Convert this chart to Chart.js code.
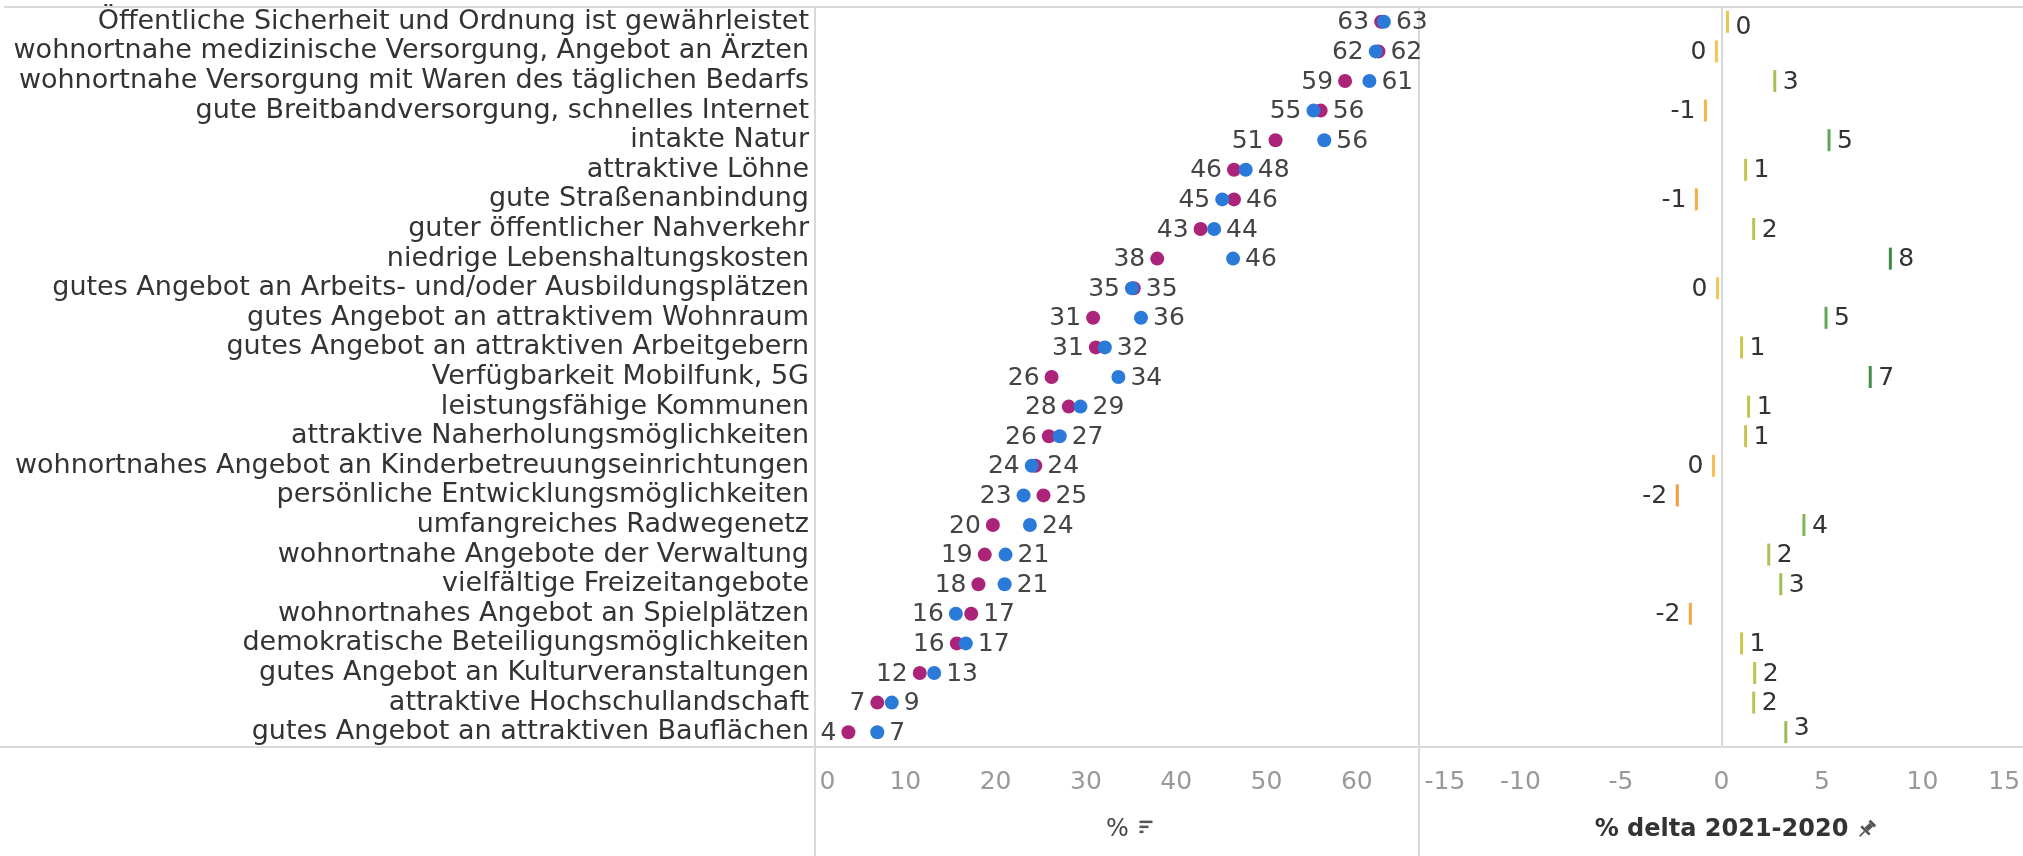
<!DOCTYPE html>
<html>
<head>
<meta charset="utf-8">
<script src="https://cdn.jsdelivr.net/npm/chart.js@4.4.0/dist/chart.umd.min.js"></script>
<style>
  html, body { margin: 0; padding: 0; background: #fff; overflow: hidden; }
  #wrap { position: relative; width: 2023px; height: 856px; }
  #leftChart { position: absolute; left: 0; top: 0; }
  #rightChart { position: absolute; left: 1380px; top: 0; }
</style>
</head>
<body>
<div id="wrap">
  <canvas id="leftChart" width="1480" height="856"></canvas>
  <canvas id="rightChart" width="643" height="856"></canvas>
</div>
<script>
const categories = [
    'Öffentliche Sicherheit und Ordnung ist gewährleistet',
    'wohnortnahe medizinische Versorgung, Angebot an Ärzten',
    'wohnortnahe Versorgung mit Waren des täglichen Bedarfs',
    'gute Breitbandversorgung, schnelles Internet',
    'intakte Natur',
    'attraktive Löhne',
    'gute Straßenanbindung',
    'guter öffentlicher Nahverkehr',
    'niedrige Lebenshaltungskosten',
    'gutes Angebot an Arbeits- und/oder Ausbildungsplätzen',
    'gutes Angebot an attraktivem Wohnraum',
    'gutes Angebot an attraktiven Arbeitgebern',
    'Verfügbarkeit Mobilfunk, 5G',
    'leistungsfähige Kommunen',
    'attraktive Naherholungsmöglichkeiten',
    'wohnortnahes Angebot an Kinderbetreuungseinrichtungen',
    'persönliche Entwicklungsmöglichkeiten',
    'umfangreiches Radwegenetz',
    'wohnortnahe Angebote der Verwaltung',
    'vielfältige Freizeitangebote',
    'wohnortnahes Angebot an Spielplätzen',
    'demokratische Beteiligungsmöglichkeiten',
    'gutes Angebot an Kulturveranstaltungen',
    'attraktive Hochschullandschaft',
    'gutes Angebot an attraktiven Bauflächen'
];

// % share, 2020 (magenta) and 2021 (blue)
const values2020 = [62.7, 62.4, 58.7, 56.0, 51.0, 46.4, 46.4, 42.7, 37.9, 35.3, 30.8, 31.1, 26.2,
    28.1, 25.9, 24.4, 25.3, 19.7, 18.8, 18.1, 17.3, 15.7, 11.6, 6.9, 3.7];
const values2021 = [63.0, 62.1, 61.4, 55.2, 56.4, 47.7, 45.1, 44.2, 46.3, 35.1, 36.1, 32.1, 33.6,
    29.4, 27.1, 24.0, 23.1, 23.8, 21.1, 21.0, 15.6, 16.7, 13.2, 8.5, 6.9];

// % delta 2021-2020
const delta = [0.3, -0.25, 2.65, -0.8, 5.35, 1.2, -1.25, 1.6, 8.4, -0.2, 5.2, 1.0, 7.4,
    1.35, 1.2, -0.4, -2.2, 4.1, 2.35, 2.95, -1.55, 1.0, 1.65, 1.6, 3.2];

const pctRange = [0, 67];
const deltaRange = [-15, 15];

const color2020 = '#ab2479';
const color2021 = '#2a7ad9';
const lineColor = '#d9d9d9';
const font = '"DejaVu Sans", sans-serif';

// diverging colour for the delta ticks
const deltaStops = [
    [-2.2, [242, 154, 60]], [-0.8, [246, 181, 72]], [-0.2, [248, 198, 84]], [0.3, [230, 198, 74]],
    [1, [200, 198, 79]], [2, [179, 195, 83]], [3, [159, 190, 88]], [4, [133, 181, 90]],
    [5.3, [94, 166, 87]], [8, [58, 138, 72]]
];
function deltaColor(v) {
    if (v <= deltaStops[0][0]) return 'rgb(' + deltaStops[0][1].join(',') + ')';
    for (let i = 1; i < deltaStops.length; i++) {
        const [v1, c1] = deltaStops[i];
        const [v0, c0] = deltaStops[i - 1];
        if (v <= v1) {
            const t = (v - v0) / (v1 - v0);
            return 'rgb(' + c0.map((c, k) => Math.round(c + (c1[k] - c) * t)).join(',') + ')';
        }
    }
    return 'rgb(' + deltaStops[deltaStops.length - 1][1].join(',') + ')';
}

const fmt = v => String(Math.round(v) === 0 ? 0 : Math.round(v));

// lines round the panels (drawn under the marks and labels)
const leftFrame = {
    id: 'leftFrame',
    beforeDatasetsDraw(chart) {
        const { ctx, chartArea: a, height } = chart;
        ctx.save();
        ctx.strokeStyle = lineColor;
        ctx.lineWidth = 2;
        ctx.beginPath();
        ctx.moveTo(4, a.top); ctx.lineTo(a.right, a.top);
        ctx.moveTo(0, a.bottom); ctx.lineTo(a.right, a.bottom);
        ctx.moveTo(a.left, a.top); ctx.lineTo(a.left, height);
        ctx.moveTo(a.right - 1, a.top); ctx.lineTo(a.right - 1, height);
        ctx.stroke();
        ctx.restore();
    }
};
const rightFrame = {
    id: 'rightFrame',
    beforeDatasetsDraw(chart) {
        const { ctx, chartArea: a, width } = chart;
        ctx.save();
        ctx.strokeStyle = lineColor;
        ctx.lineWidth = 2;
        ctx.beginPath();
        ctx.moveTo(a.left, a.top); ctx.lineTo(width, a.top);
        ctx.moveTo(a.left, a.bottom); ctx.lineTo(width, a.bottom);
        ctx.stroke();
        ctx.restore();
    }
};

// value labels left and right of the dot pair
const dotLabels = {
    id: 'dotLabels',
    afterDatasetsDraw(chart) {
        const ctx = chart.ctx;
        const blue = chart.getDatasetMeta(0).data;
        const mag = chart.getDatasetMeta(1).data;
        ctx.save();
        ctx.font = '25px ' + font;
        ctx.fillStyle = '#444';
        ctx.textBaseline = 'middle';
        categories.forEach((c, i) => {
            const magLow = values2020[i] <= values2021[i];
            const lo = magLow ? mag[i] : blue[i];
            const hi = magLow ? blue[i] : mag[i];
            const loV = magLow ? values2020[i] : values2021[i];
            const hiV = magLow ? values2021[i] : values2020[i];
            ctx.textAlign = 'right';
            ctx.fillText(fmt(loV), lo.x - 12, lo.y + 1);
            ctx.textAlign = 'left';
            ctx.fillText(fmt(hiV), hi.x + 12, hi.y + 1);
        });
        ctx.restore();
    }
};

const deltaLabels = {
    id: 'deltaLabels',
    afterDatasetsDraw(chart) {
        const { ctx, chartArea: a } = chart;
        const pts = chart.getDatasetMeta(0).data;
        ctx.save();
        ctx.font = '25px ' + font;
        ctx.fillStyle = '#333';
        ctx.textBaseline = 'middle';
        pts.forEach((p, i) => {
            // keep labels clear of the panel edges, as in the original
            const y = Math.min(Math.max(p.y + 1, a.top + 20), a.bottom - 19);
            if (delta[i] > 0) {
                ctx.textAlign = 'left';
                ctx.fillText(fmt(delta[i]), p.x + 8, y);
            } else {
                ctx.textAlign = 'right';
                ctx.fillText(fmt(delta[i]), p.x - 10, y);
            }
        });
        ctx.restore();
    }
};

// small icons after the axis titles
function titleY(chart, size, pad) {
    return chart.scales.x.bottom - size * 1.2 / 2 - pad;
}
const sortIcon = {
    id: 'sortIcon',
    afterDraw(chart) {
        const { ctx, chartArea: a } = chart;
        const cx = (a.left + a.right) / 2;
        const y = titleY(chart, 24, 12);
        ctx.save();
        ctx.fillStyle = '#555';
        ctx.fillRect(cx + 22, y - 9, 13, 2.5);
        ctx.fillRect(cx + 22, y - 4, 9, 2.5);
        ctx.fillRect(cx + 22, y + 1, 4, 2.5);
        ctx.restore();
    }
};
const pinIcon = {
    id: 'pinIcon',
    afterDraw(chart) {
        const { ctx, chartArea: a } = chart;
        ctx.save();
        ctx.font = 'bold 24px ' + font;
        const w = ctx.measureText('% delta 2021-2020').width;
        const x = (a.left + a.right) / 2 + w / 2 + 18;
        const y = titleY(chart, 24, 12);
        ctx.translate(x, y);
        ctx.rotate(Math.PI / 4);
        ctx.fillStyle = '#555';
        ctx.fillRect(-4, -10, 8, 3);
        ctx.fillRect(-2.5, -7, 5, 7);
        ctx.fillRect(-6, 0, 12, 2.5);
        ctx.fillRect(-0.8, 2.5, 1.6, 7);
        ctx.restore();
    }
};

new Chart(document.getElementById('leftChart'), {
    type: 'line',
    data: {
        labels: categories,
        datasets: [{
            label: '2021',
            data: values2021,
            showLine: false,
            pointRadius: 7,
            pointBorderWidth: 0,
            pointBackgroundColor: color2021,
            pointBorderColor: color2021
        }, {
            label: '2020',
            data: values2020,
            showLine: false,
            pointRadius: 7,
            pointBorderWidth: 0,
            pointBackgroundColor: color2020,
            pointBorderColor: color2020
        }]
    },
    options: {
        indexAxis: 'y',
        responsive: false,
        animation: false,
        events: [],
        layout: { autoPadding: false, padding: { top: 7, left: 0, right: 60, bottom: 0 } },
        plugins: {
            legend: { display: false },
            tooltip: { enabled: false }
        },
        scales: {
            y: {
                type: 'category',
                offset: true,
                grid: { display: false, drawTicks: false },
                border: { display: false },
                ticks: {
                    color: '#333',
                    font: { family: font, size: 27 },
                    padding: 6,
                    autoSkip: false
                },
                afterFit(s) { s.width = 815; s.paddingTop = 0; s.paddingBottom = 0; }
            },
            x: {
                type: 'linear',
                position: 'bottom',
                min: pctRange[0],
                max: pctRange[1],
                grid: { display: false, drawTicks: false },
                border: { display: false },
                ticks: {
                    stepSize: 10,
                    includeBounds: false,
                    color: '#999',
                    font: { family: font, size: 25 },
                    padding: 20,
                    maxRotation: 0,
                    autoSkip: false,
                    callback: v => v === 0 ? '\u2002\u20020' : v
                },
                title: {
                    display: true,
                    text: '%',
                    color: '#444',
                    font: { family: font, size: 24 },
                    padding: { top: 0, bottom: 12 }
                },
                afterFit(s) { s.height = 109; s.paddingLeft = 0; s.paddingRight = 0; }
            }
        }
    },
    plugins: [leftFrame, dotLabels, sortIcon]
});

new Chart(document.getElementById('rightChart'), {
    type: 'line',
    data: {
        labels: categories,
        datasets: [{
            label: '% delta 2021-2020',
            data: delta,
            showLine: false,
            pointStyle: 'line',
            pointRadius: 11,
            pointRotation: 90,
            pointBorderWidth: 3,
            pointBorderColor: c => deltaColor(c.raw),
            pointBackgroundColor: c => deltaColor(c.raw)
        }]
    },
    options: {
        indexAxis: 'y',
        responsive: false,
        animation: false,
        events: [],
        layout: { autoPadding: false, padding: { top: 7, left: 40, right: 0, bottom: 0 } },
        plugins: {
            legend: { display: false },
            tooltip: { enabled: false }
        },
        scales: {
            y: {
                type: 'category',
                offset: true,
                display: false
            },
            x: {
                type: 'linear',
                position: 'bottom',
                min: deltaRange[0],
                max: deltaRange[1],
                grid: {
                    drawTicks: false,
                    lineWidth: 2,
                    color: c => (c.tick && c.tick.value === 0) ? lineColor : 'rgba(0,0,0,0)'
                },
                border: { display: false },
                ticks: {
                    stepSize: 5,
                    color: '#999',
                    font: { family: font, size: 25 },
                    padding: 20,
                    maxRotation: 0,
                    autoSkip: false,
                    callback: v => v === -15 ? '\u2002\u2002\u2002\u2002-15'
                        : v === 15 ? '15\u2002\u2002\u2002' : v
                },
                title: {
                    display: true,
                    text: '% delta 2021-2020',
                    color: '#333',
                    font: { family: font, size: 24, weight: 'bold' },
                    padding: { top: 0, bottom: 12 }
                },
                afterFit(s) { s.height = 109; s.paddingLeft = 0; s.paddingRight = 0; }
            }
        }
    },
    plugins: [rightFrame, deltaLabels, pinIcon]
});
</script>
</body>
</html>
